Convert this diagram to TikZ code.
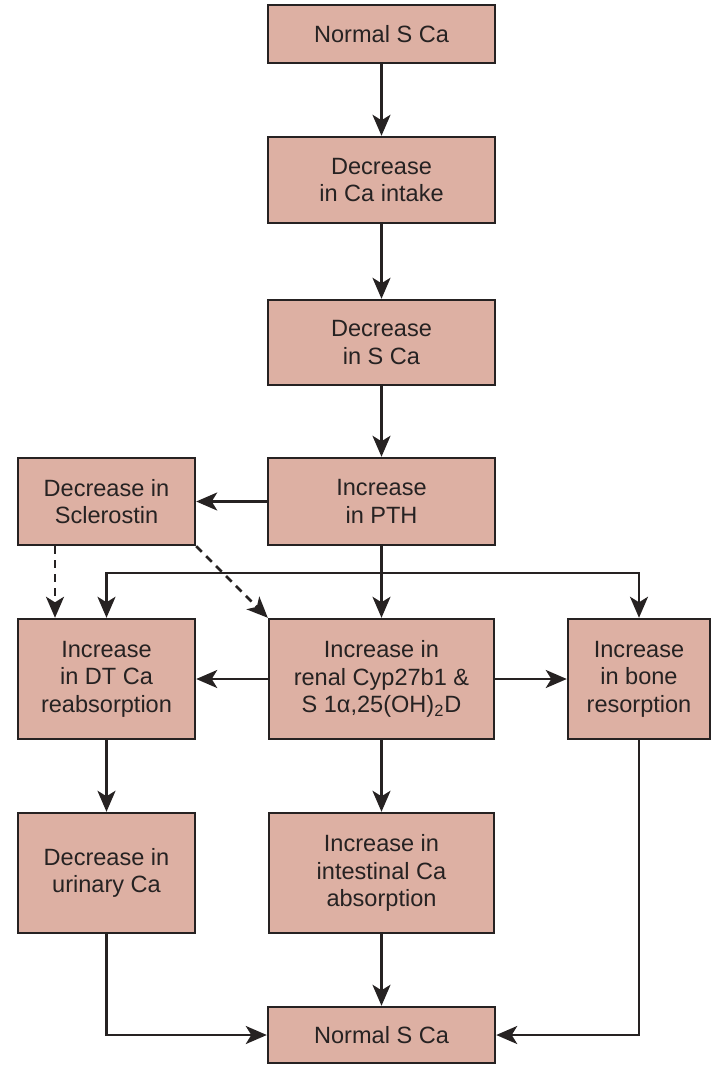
\documentclass[tikz,border=0pt]{standalone}
\usepackage{fontspec}
\setmainfont{Liberation Sans}
\usetikzlibrary{arrows.meta}
\definecolor{boxfill}{RGB}{221,176,163}
\definecolor{inkline}{RGB}{38,34,34}
\tikzset{
  box/.style={draw=inkline, line width=1.4pt, fill=boxfill, align=center, text=inkline,
    inner sep=0pt, font=\fontsize{13.4}{15.6}\selectfont},
  arr/.style={draw=inkline, line width=1.5pt, -{Stealth[length=0.42cm,width=0.36cm,inset=0.11cm]}},
  darr/.style={arr, dash pattern=on 4.5pt off 3.5pt}
}
\begin{document}
\begin{tikzpicture}[x=0.02cm, y=-0.02cm]
\useasboundingbox (0,0) rectangle (713,1065);
\node[box, minimum width=4.54cm, minimum height=1.16cm] (start) at (381.5,34) {Normal S Ca};
\node[box, minimum width=4.54cm, minimum height=1.72cm] (intake) at (381.5,180) {Decrease\\in Ca intake};
\node[box, minimum width=4.54cm, minimum height=1.70cm] (sca) at (381.5,342.5) {Decrease\\in S Ca};
\node[box, minimum width=4.54cm, minimum height=1.74cm] (pth) at (381.5,501.5) {Increase\\in PTH};
\node[box, minimum width=3.54cm, minimum height=1.74cm] (scl) at (106.5,501.5) {Decrease in\\Sclerostin};
\node[box, minimum width=3.54cm, minimum height=2.40cm] (dt) at (106.5,679) {Increase\\in DT Ca\\reabsorption};
\node[box, minimum width=4.50cm, minimum height=2.40cm] (renal) at (381.5,679) {Increase in\\renal Cyp27b1 \&\\S 1α,25(OH)\textsubscript{2}D};
\node[box, minimum width=2.84cm, minimum height=2.40cm] (bone) at (639,679) {Increase\\in bone\\resorption};
\node[box, minimum width=3.54cm, minimum height=2.40cm] (urine) at (106.5,873) {Decrease in\\urinary Ca};
\node[box, minimum width=4.50cm, minimum height=2.40cm] (gut) at (381.5,873) {Increase in\\intestinal Ca\\absorption};
\node[box, minimum width=4.54cm, minimum height=1.12cm] (end) at (381.5,1035) {Normal S Ca};
\coordinate (split) at (381.5,573);

\draw[arr] (start) -- (intake);
\draw[arr] (intake) -- (sca);
\draw[arr] (sca) -- (pth);
\draw[arr] (pth) -- (scl);
\draw[arr] (pth) -- (renal);
\draw[arr] (split) -| (dt.north);
\draw[arr] (split) -| (bone.north);
\draw[darr] ([xshift=-1.03cm]scl.south) -- ([xshift=-1.03cm]dt.north);
\draw[darr] (scl.south east) -- (renal.north west);
\draw[arr] (renal) -- (dt);
\draw[arr] (renal) -- (bone);
\draw[arr] (dt) -- (urine);
\draw[arr] (renal) -- (gut);
\draw[arr] (gut) -- (end);
\draw[arr] (urine.south) |- (end.west);
\draw[arr] (bone.south) |- (end.east);
\end{tikzpicture}
\end{document}
